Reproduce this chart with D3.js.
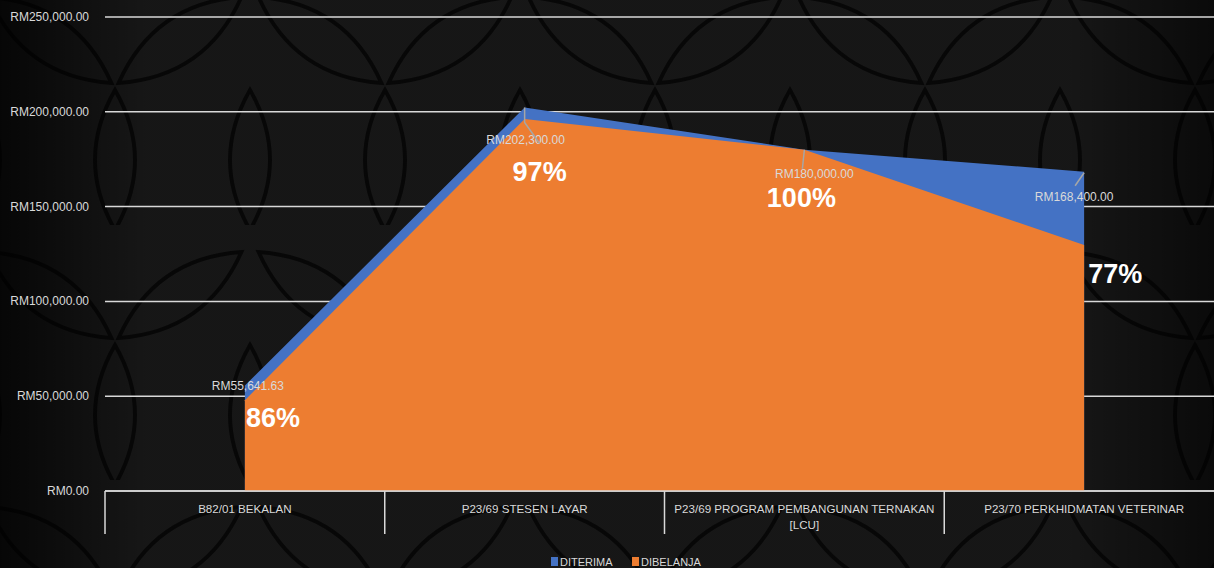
<!DOCTYPE html>
<html>
<head>
<meta charset="utf-8">
<script src="https://cdn.jsdelivr.net/npm/d3@7"></script>
<style>
  html, body { margin: 0; padding: 0; background: #000; overflow: hidden; }
  svg { display: block; font-family: "Liberation Sans", Arial, sans-serif; }
</style>
</head>
<body>
<svg id="chart"></svg>
<script>
// chart data
const categories = [
  "B82/01 BEKALAN",
  "P23/69 STESEN LAYAR",
  "P23/69 PROGRAM PEMBANGUNAN TERNAKAN [LCU]",
  "P23/70 PERKHIDMATAN VETERINAR"
];
const diterima = [55641.63, 202300, 180000, 168400];
const dibelanja = [47900, 196200, 180000, 129700];
const yTicks = [0, 50000, 100000, 150000, 200000, 250000];
const seriesNames = ["DITERIMA", "DIBELANJA"];
const seriesColors = ["#4472c4", "#ed7d31"];

// label placement relative to the point (layout only)
const valueLabelOffsets = [[3, 4], [1, 37], [10, 28], [-10, 29]];
const valueLeaders = [null, [[0, 0], [0, 15], [15, 36]], [[0, 0], [-2, 19]], [[0, 1], [-9, 14]]];
const pctLabelOffsets = [[1, 27, "start"], [15, 62, "middle"], [-3, 57, "middle"], [4, 38, "start"]];

const W = 1214, H = 568;
const margin = { top: 17, left: 105, bottom: 77 };
const fmt = v => "RM" + d3.format(",.2f")(v);

const svg = d3.select('#chart').attr('width', W).attr('height', H);

// background: dark tile pattern
const defs = svg.append('defs');
const pat = defs.append('pattern')
  .attr('id', 'bgPat')
  .attr('patternUnits', 'userSpaceOnUse')
  .attr('width', 270).attr('height', 255)
  .attr('x', -20).attr('y', -30);
pat.append('rect').attr('width', 270).attr('height', 255).attr('fill', '#191919');
const lens = (a, b) => `M${-a},0 Q0,${-b} ${a},0 Q0,${b} ${-a},0Z`;
[[70, 70, 35, 75, 45], [200, 70, -35, 75, 45], [135, 190, 90, 70, 40], [0, 190, 90, 70, 40], [270, 190, 90, 70, 40]]
  .forEach(([cx, cy, r, a, b]) => {
    pat.append('path')
      .attr('d', lens(a, b))
      .attr('transform', `translate(${cx},${cy}) rotate(${r})`)
      .attr('fill', 'none')
      .attr('stroke', '#080808')
      .attr('stroke-width', 4);
  });
const vg = defs.append('linearGradient').attr('id', 'vig').attr('x1', 0).attr('x2', 1);
vg.append('stop').attr('offset', 0).attr('stop-color', '#000').attr('stop-opacity', 0.75);
vg.append('stop').attr('offset', 0.12).attr('stop-color', '#000').attr('stop-opacity', 0.1);
vg.append('stop').attr('offset', 0.88).attr('stop-color', '#000').attr('stop-opacity', 0.1);
vg.append('stop').attr('offset', 1).attr('stop-color', '#000').attr('stop-opacity', 0.6);
svg.append('rect').attr('width', W).attr('height', H).attr('fill', 'url(#bgPat)');
svg.append('rect').attr('width', W).attr('height', H).attr('fill', 'url(#vig)');

const x = d3.scaleBand()
  .domain(categories)
  .range([margin.left, 1224]);
const y = d3.scaleLinear()
  .domain([0, 250000])
  .range([H - margin.bottom, margin.top]);
const cx = d => x(d) + x.bandwidth() / 2;

// gridlines
svg.append('g')
  .selectAll('line')
  .data(yTicks)
  .enter().append('line')
  .attr('x1', margin.left).attr('x2', W)
  .attr('y1', d => y(d)).attr('y2', d => y(d))
  .attr('stroke', '#d9d9d9')
  .attr('stroke-width', 1.5);

// y axis labels
svg.append('g')
  .selectAll('text')
  .data(yTicks)
  .enter().append('text')
  .attr('x', 89)
  .attr('y', d => y(d) + 4)
  .attr('text-anchor', 'end')
  .style('fill', '#d9d9d9')
  .style('font-size', '12px')
  .text(fmt);

// areas (DITERIMA behind, DIBELANJA in front)
const area = d3.area()
  .x(d => cx(d.cat))
  .y0(y(0))
  .y1(d => y(d.v));
[diterima, dibelanja].forEach((vals, i) => {
  svg.append('path')
    .datum(vals.map((v, j) => ({ cat: categories[j], v })))
    .attr('fill', seriesColors[i])
    .attr('d', area);
});

// category axis
const axisY = y(0);
svg.append('line')
  .attr('x1', margin.left).attr('x2', W)
  .attr('y1', axisY).attr('y2', axisY)
  .attr('stroke', '#d9d9d9').attr('stroke-width', 1.5);
svg.append('g')
  .selectAll('line')
  .data(categories)
  .enter().append('line')
  .attr('x1', d => x(d)).attr('x2', d => x(d))
  .attr('y1', axisY).attr('y2', axisY + 43)
  .attr('stroke', '#d9d9d9').attr('stroke-width', 1.5);

const catText = svg.append('g')
  .selectAll('text')
  .data(categories)
  .enter().append('text')
  .attr('text-anchor', 'middle')
  .style('fill', '#d9d9d9')
  .style('font-size', '11.6px');
catText.each(function(d) {
  const t = d3.select(this);
  const words = d.split(' ');
  let line = [], lineNo = 0;
  let tspan = t.append('tspan').attr('x', cx(d)).attr('y', axisY + 22);
  words.forEach(w => {
    line.push(w);
    tspan.text(line.join(' '));
    if (tspan.node().getComputedTextLength() > 268 && line.length > 1) {
      line.pop();
      tspan.text(line.join(' '));
      line = [w];
      lineNo++;
      tspan = t.append('tspan').attr('x', cx(d)).attr('y', axisY + 22 + lineNo * 16).text(w);
    }
  });
});

// value labels for DITERIMA with leader lines
diterima.forEach((v, i) => {
  const px = cx(categories[i]), py = y(v);
  svg.append('text')
    .attr('x', px + valueLabelOffsets[i][0])
    .attr('y', py + valueLabelOffsets[i][1])
    .attr('text-anchor', 'middle')
    .style('fill', '#d9d9d9')
    .style('font-size', '12px')
    .text(fmt(v));
  if (valueLeaders[i]) {
    svg.append('polyline')
      .attr('points', valueLeaders[i].map(([dx, dy]) => `${px + dx},${py + dy}`).join(' '))
      .attr('fill', 'none')
      .attr('stroke', '#a6a6a6')
      .attr('stroke-width', 1.5);
  }
});

// percentage labels for DIBELANJA
dibelanja.forEach((v, i) => {
  const px = cx(categories[i]), py = y(v);
  const [dx, dy, anchor] = pctLabelOffsets[i];
  svg.append('text')
    .attr('x', px + dx)
    .attr('y', py + dy)
    .attr('text-anchor', anchor)
    .style('fill', '#ffffff')
    .style('font-size', '27px')
    .style('font-weight', 'bold')
    .text(Math.round(v / diterima[i] * 100) + '%');
});

// legend
const legendX = [551, 632];
const legend = svg.append('g');
seriesNames.forEach((name, i) => {
  legend.append('rect')
    .attr('x', legendX[i]).attr('y', 557)
    .attr('width', 7).attr('height', 9)
    .attr('fill', seriesColors[i]);
  legend.append('text')
    .attr('x', legendX[i] + 9).attr('y', 566)
    .style('fill', '#d9d9d9')
    .style('font-size', '11px')
    .text(name);
});
</script>
</body>
</html>
